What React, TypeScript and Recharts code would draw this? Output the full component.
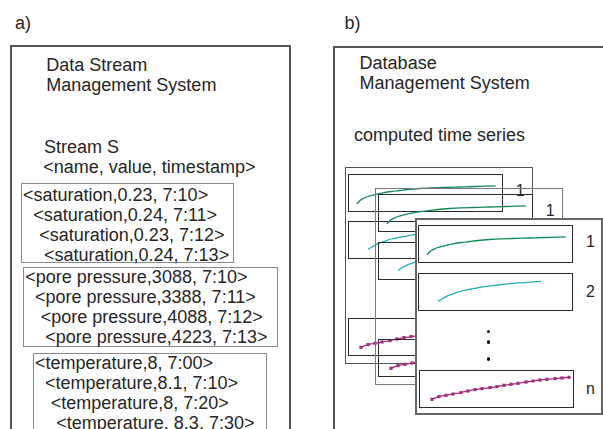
import { Line, LineChart, XAxis, YAxis } from "recharts";

// stream tuples shown in panel a
const saturationRows = [
  "<saturation,0.23, 7:10>",
  "<saturation,0.24, 7:11>",
  "<saturation,0.23, 7:12>",
  "<saturation,0.24, 7:13>",
];
const pressureRows = [
  "<pore pressure,3088, 7:10>",
  "<pore pressure,3388, 7:11>",
  "<pore pressure,4088, 7:12>",
  "<pore pressure,4223, 7:13>",
];
const temperatureRows = [
  "<temperature,8, 7:00>",
  "<temperature,8.1, 7:10>",
  "<temperature,8, 7:20>",
  "<temperature, 8.3, 7:30>",
];

// computed time series shown in panel b
const greenTime = [8, 10, 12.3, 15.7, 19, 24, 29, 35.7, 42.3, 50.7, 59, 70.7, 82.3, 94, 105.7, 115.7, 125.7, 135.7, 146.7];
const greenValue = [7.2, 9.5, 11.5, 13.2, 14.5, 15.8, 17.2, 18.5, 19.5, 20.5, 21.5, 22.5, 23.2, 23.5, 23.8, 24.2, 24.5, 24.8, 25.2];
const cyanTime = [19, 24, 29, 35.7, 42.3, 52.3, 65.7, 79, 92.3, 105.7, 122.3];
const cyanValue = [8.4, 11.7, 14.4, 16.7, 19, 21, 23.4, 25, 26.4, 27.4, 28.7];
const magentaTime = [12, 19, 26, 33, 41, 48, 55, 62, 70, 77, 84, 91, 98, 106, 113, 120, 127, 135, 142, 149];
const magentaValue = [7.7, 10.4, 11.7, 13, 14.4, 16, 17.4, 18.4, 19.4, 20.4, 21.7, 22.7, 23.7, 25, 26, 27, 27.7, 28.4, 29, 29.7];

const seriesLabels = ["1", "2", "n"];

const toPoints = (t: number[], v: number[]) => t.map((time, i) => ({ t: time, v: v[i] }));
const greenData = toPoints(greenTime, greenValue);
const cyanData = toPoints(cyanTime, cyanValue);
const magentaData = toPoints(magentaTime, magentaValue);

const TEXT = "#262626";

function Txt({ x, y, size = 18, children }: { x: number; y: number; size?: number; children: any }) {
  return (
    <div
      style={{
        position: "absolute",
        left: x,
        top: y,
        fontSize: size,
        lineHeight: "20px",
        whiteSpace: "pre",
        color: TEXT,
      }}
    >
      {children}
    </div>
  );
}

function Box({ x, y, w, h, border, bg }: { x: number; y: number; w: number; h: number; border: string; bg?: string }) {
  return (
    <div
      style={{
        position: "absolute",
        left: x,
        top: y,
        width: w,
        height: h,
        border,
        boxSizing: "border-box",
        background: bg ?? "transparent",
      }}
    />
  );
}

function SquareDot(props: any) {
  const { cx, cy, index } = props;
  if (cx == null || cy == null) return null;
  return <rect key={index} x={cx - 1.6} y={cy - 1.6} width={3.2} height={3.2} fill="#a2307f" />;
}

function Spark({ data, color, marker }: { data: Array<{ t: number; v: number }>; color: string; marker?: boolean }) {
  return (
    <LineChart width={153} height={36} data={data} margin={{ top: 0, right: 0, bottom: 0, left: 0 }}>
      <XAxis dataKey="t" type="number" domain={[0, 153]} hide />
      <YAxis type="number" domain={[0, 36]} hide />
      <Line
        type="monotone"
        dataKey="v"
        stroke={color}
        strokeWidth={1.3}
        dot={marker ? SquareDot : false}
        isAnimationActive={false}
      />
    </LineChart>
  );
}

function SubBox({ x, y, children }: { x: number; y: number; children: any }) {
  return (
    <div
      style={{
        position: "absolute",
        left: x,
        top: y,
        width: 155,
        height: 38,
        border: "1px solid #2b2b2b",
        boxSizing: "border-box",
      }}
    >
      {children}
    </div>
  );
}

function Frame({ x, y, border, bg, dots }: { x: number; y: number; border: string; bg?: string; dots?: boolean }) {
  return (
    <div
      style={{
        position: "absolute",
        left: x,
        top: y,
        width: 188,
        height: 197,
        border,
        boxSizing: "border-box",
        background: bg ?? "transparent",
      }}
    >
      <SubBox x={1.5} y={5.5}>
        <Spark data={greenData} color="#138a55" />
      </SubBox>
      <SubBox x={1.5} y={53}>
        <Spark data={cyanData} color="#20aeb8" />
      </SubBox>
      <SubBox x={2} y={150}>
        <Spark data={magentaData} color="#a2307f" marker />
      </SubBox>
      {[22.5, 72.5, 169.5].map((cy, i) => (
        <div
          key={i}
          style={{
            position: "absolute",
            left: 164,
            top: cy - 10,
            width: 20,
            textAlign: "center",
            fontSize: 16,
            lineHeight: "20px",
            color: TEXT,
          }}
        >
          {seriesLabels[i]}
        </div>
      ))}
      {dots &&
        [112, 122.7, 139.3].map((cy, i) => (
          <div
            key={i}
            style={{
              position: "absolute",
              left: 70,
              top: cy - 1.8,
              width: 3.6,
              height: 3.6,
              borderRadius: "50%",
              background: "#111",
            }}
          />
        ))}
    </div>
  );
}

function Rows({ rows, x, y }: { rows: string[]; x: number[]; y: number }) {
  return (
    <>
      {rows.map((r, i) => (
        <Txt key={r} x={x[i]} y={y + i * 20}>
          {r}
        </Txt>
      ))}
    </>
  );
}

export default function App() {
  return (
    <div
      style={{
        position: "absolute",
        left: 0,
        top: 0,
        width: 603,
        height: 429,
        overflow: "hidden",
        background: "#fff",
        fontFamily: '"Liberation Sans", Arial, sans-serif',
      }}
    >
      {/* panel a */}
      <Txt x={15} y={13}>a)</Txt>
      <Box x={10} y={44.5} w={281} h={420} border="2.5px solid #555" />
      <Txt x={46.3} y={54.5}>{"Data Stream\nManagement System"}</Txt>
      <Txt x={44} y={137}>{"Stream S"}</Txt>
      <Txt x={43.3} y={156.5}>{"<name, value, timestamp>"}</Txt>

      <Box x={20.7} y={183.3} w={213.3} h={80} border="1.3px solid #8a8a8a" />
      <Rows rows={saturationRows} x={[23, 33.3, 39.3, 44]} y={184.5} />
      <Box x={23.3} y={266.7} w={255} h={80} border="1.3px solid #8a8a8a" />
      <Rows rows={pressureRows} x={[25.3, 35, 40.7, 45.3]} y={267} />
      <Box x={33.3} y={352.7} w={233.4} h={110} border="1.3px solid #8a8a8a" />
      <Rows rows={temperatureRows} x={[35, 45, 50.7, 56.3]} y={353} />

      {/* panel b */}
      <Txt x={344.5} y={13}>b)</Txt>
      <Box x={333} y={46} w={300} h={420} border="2.5px solid #555" />
      <Txt x={359.6} y={53}>{"Database\nManagement System"}</Txt>
      <Txt x={354} y={124.5}>{"computed time series"}</Txt>

      <Frame x={345.3} y={167.3} border="1px solid #555" />
      <Frame x={375.3} y={187.7} border="1.5px solid #7a7a7a" />
      <Frame x={414.5} y={217.5} border="2px solid #666" bg="#fff" dots />
    </div>
  );
}
